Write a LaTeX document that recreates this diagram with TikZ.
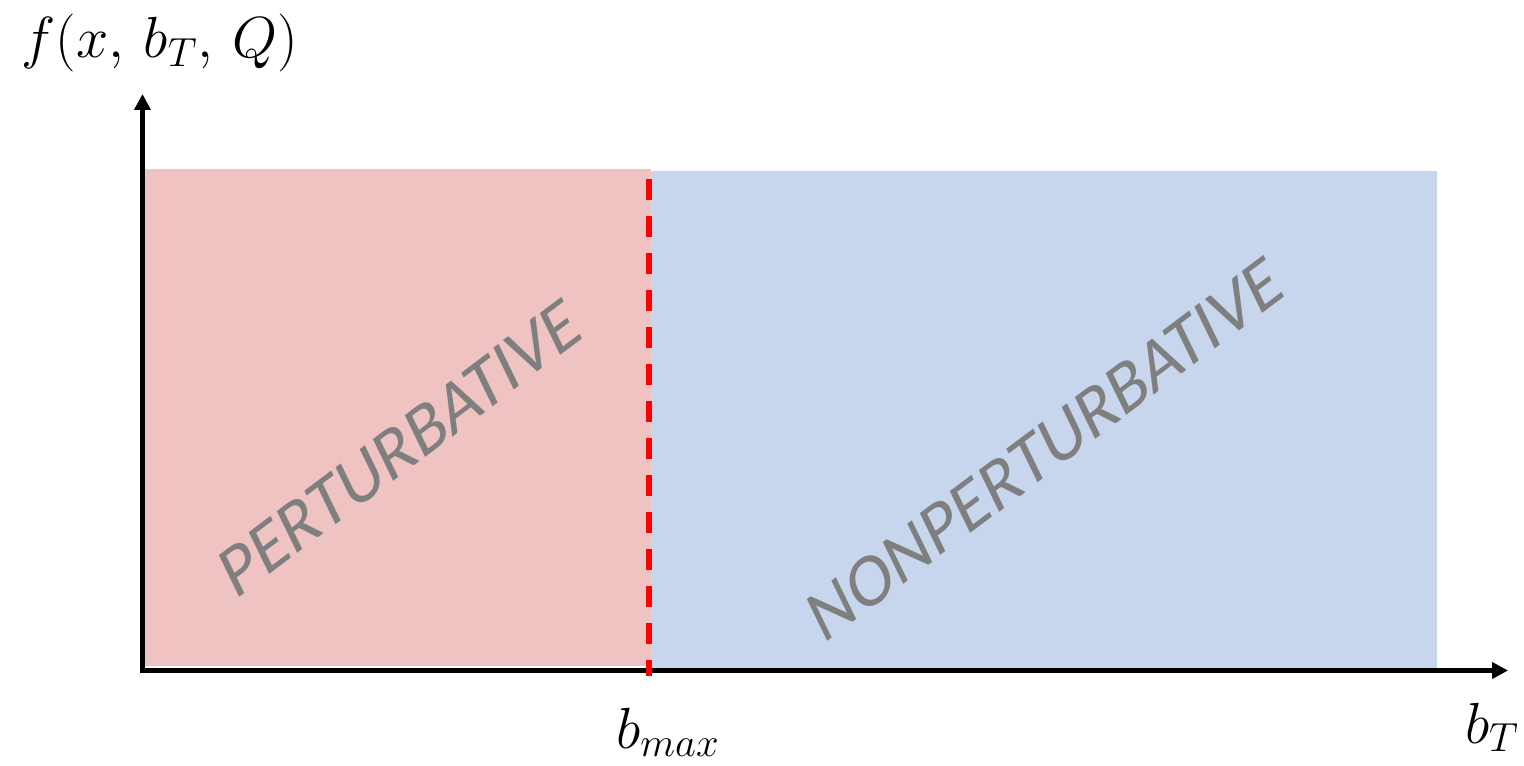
\RequirePackage{fix-cm}
\documentclass[tikz,border=0pt]{standalone}
\usepackage{fontspec}
\newfontfamily\regionfont{Carlito}
\usetikzlibrary{arrows.meta}

\definecolor{pertfill}{RGB}{240,195,195}
\definecolor{npfill}{RGB}{199,214,236}
\definecolor{regiontext}{RGB}{127,127,127}

\tikzset{
  axisline/.style={line width=2.5pt, line join=miter,
    {Triangle[length=8pt,width=8pt]}-{Triangle[length=8pt,width=8pt]}},
  cutline/.style={draw=red, line width=3pt, dash pattern=on 10.5pt off 8pt},
  mathlabel/.style={inner sep=0pt, anchor=base, font=\fontsize{29}{33}\selectfont},
  regionlabel/.style={inner sep=0pt, text=regiontext, transform shape,
    font=\regionfont\fontsize{41}{45}\selectfont},
  slanted/.style={cm={0.706,0.532,-0.387,0.794,(0,0)}}
}

\begin{document}
\begin{tikzpicture}[x=0.5pt, y=-0.5pt]
  \useasboundingbox (0,0) rectangle (1524,765);

  % the two regions of b_T
  \fill[pertfill] (140,169) rectangle (651,666);
  \fill[npfill] (651,171) rectangle (1437,668);

  % axes
  \coordinate (origin) at (142.5,670.5);
  \coordinate (ytip) at (142.5,94);
  \coordinate (xtip) at (1508,670.5);
  \draw[axisline] (ytip) -- (origin) -- (xtip);

  % b_max separation
  \coordinate (cuttop) at (649,179);
  \coordinate (cutbot) at (649,676);
  \draw[cutline] (cuttop) -- (cutbot);

  % axis labels
  \node[mathlabel] (flabel) at (160,58) {$f(x,\,b_T,\,Q)$};
  \node[mathlabel] (bmax) at (668,748) {$b_{max}$};
  \node[mathlabel] (bT) at (1492,743) {$b_T$};

  % region names
  \begin{scope}[shift={(400,448)}, slanted]
    \node[regionlabel] (pert) at (0,0) {PERTURBATIVE};
  \end{scope}
  \begin{scope}[shift={(1045,449)}, slanted]
    \node[regionlabel] (nonpert) at (0,0) {NONPERTURBATIVE};
  \end{scope}
\end{tikzpicture}
\end{document}
